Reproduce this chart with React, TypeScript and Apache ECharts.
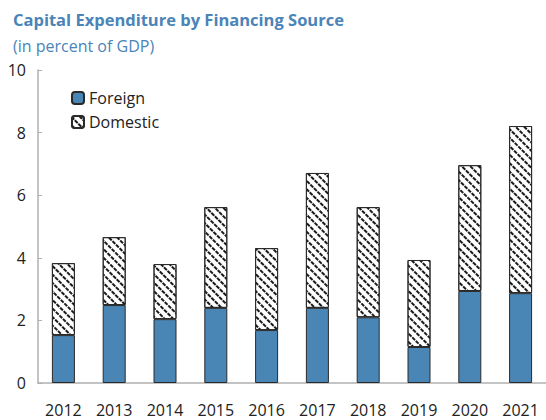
import React, { useEffect, useRef } from "react";
import * as echarts from "echarts";

const years = ["2012", "2013", "2014", "2015", "2016", "2017", "2018", "2019", "2020", "2021"];
const foreign = [1.53, 2.49, 2.04, 2.4, 1.69, 2.4, 2.1, 1.15, 2.94, 2.87];
const domestic = [2.3, 2.17, 1.76, 3.22, 2.62, 4.31, 3.52, 2.78, 4.02, 5.34];
const yTicks = [0, 2, 4, 6, 8, 10];

const FONT = "'Open Sans', 'Noto Sans', sans-serif";
const BLUE_TITLE = "#4a84b8";

export default function App() {
  const ref = useRef<HTMLDivElement>(null);
  useEffect(() => {
    if (!ref.current) return;
    const chart = echarts.init(ref.current, undefined, { renderer: "svg" });
    chart.setOption({
      animation: false,
      backgroundColor: "#ffffff",
      textStyle: { fontFamily: FONT },
      title: [
        {
          text: "Capital Expenditure by Financing Source",
          left: 8,
          top: 6,
          textStyle: { fontFamily: FONT, fontWeight: "bold", fontSize: 16.5, color: BLUE_TITLE },
        },
        {
          text: "(in percent of GDP)",
          left: 8,
          top: 33,
          textStyle: { fontFamily: FONT, fontWeight: "normal", fontSize: 16, color: BLUE_TITLE },
        },
      ],
      legend: {
        orient: "vertical",
        left: 66,
        top: 85,
        itemWidth: 12,
        itemHeight: 12,
        itemGap: 8,
        textStyle: { fontFamily: FONT, fontSize: 16, color: "#222" },
        data: ["Foreign", "Domestic"],
      },
      grid: { left: 38, right: -3, top: 70, bottom: 37, containLabel: false },
      xAxis: {
        type: "category",
        data: years,
        axisLine: { lineStyle: { color: "#b0b0b0", width: 1.5 } },
        axisTick: { inside: true, length: 5, lineStyle: { color: "#b0b0b0" } },
        axisLabel: { fontFamily: FONT, fontSize: 16, color: "#222", margin: 19 },
      },
      yAxis: {
        type: "value",
        min: 0,
        max: 10,
        interval: 2,
        axisLine: { show: true, lineStyle: { color: "#b0b0b0", width: 1.5 } },
        axisTick: { show: true, inside: true, length: 4, lineStyle: { color: "#b0b0b0" } },
        splitLine: { show: false },
        axisLabel: {
          fontFamily: FONT,
          fontSize: 16,
          color: "#222",
          margin: 12,
          formatter: (v: number) => (yTicks.includes(v) ? String(v) : ""),
        },
      },
      series: [
        {
          name: "Foreign",
          type: "bar",
          stack: "total",
          barWidth: 23,
          data: foreign,
          itemStyle: { color: "#4a86b5", borderColor: "#2a2a2a", borderWidth: 1 },
        },
        {
          name: "Domestic",
          type: "bar",
          stack: "total",
          barWidth: 23,
          data: domestic,
          itemStyle: {
            color: "#ffffff",
            borderColor: "#2a2a2a",
            borderWidth: 1,
            decal: {
              symbol: "rect",
              symbolSize: 1,
              color: "#1a1a1a",
              backgroundColor: "#ffffff",
              dashArrayX: [[4, 1]],
              dashArrayY: [1.2, 3.4],
              rotation: Math.PI / 4,
            },
          },
        },
      ],
    });
    return () => chart.dispose();
  }, []);
  return (
    <div
      ref={ref}
      style={{ position: "fixed", left: 0, top: 0, width: 546, height: 420 }}
    />
  );
}
